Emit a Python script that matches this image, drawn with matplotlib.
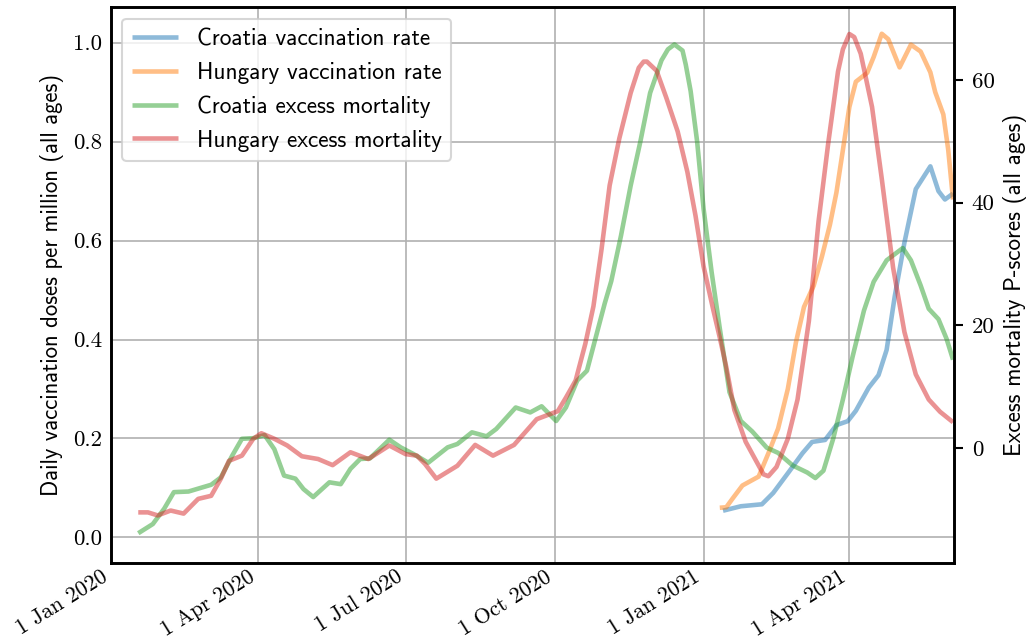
import matplotlib
matplotlib.use("Agg")
import matplotlib.pyplot as plt
import matplotlib.dates as mdates
from matplotlib.ticker import FormatStrFormatter, FuncFormatter, MultipleLocator
import pandas as pd

# Croatia excess mortality (P-scores, right axis)
hr_mort_dates = [
    "2020-01-18", "2020-01-27", "2020-02-03", "2020-02-09", "2020-02-18", "2020-03-03",
    "2020-03-09", "2020-03-16", "2020-03-22", "2020-03-29", "2020-04-05", "2020-04-11",
    "2020-04-17", "2020-04-24", "2020-04-29", "2020-05-05", "2020-05-15", "2020-05-22",
    "2020-05-28", "2020-06-03", "2020-06-09", "2020-06-21", "2020-06-28", "2020-07-06",
    "2020-07-15", "2020-07-27", "2020-08-02", "2020-08-11", "2020-08-20", "2020-08-26",
    "2020-09-07", "2020-09-16", "2020-09-23", "2020-10-02", "2020-10-08", "2020-10-15",
    "2020-10-21", "2020-10-26", "2020-11-01", "2020-11-05", "2020-11-11", "2020-11-17",
    "2020-11-23", "2020-11-29", "2020-12-06", "2020-12-10", "2020-12-14", "2020-12-19",
    "2020-12-21", "2020-12-24",
    "2020-12-28", "2021-01-01", "2021-01-06", "2021-01-11", "2021-01-17", "2021-01-24",
    "2021-01-31", "2021-02-09", "2021-02-16", "2021-02-25", "2021-03-06", "2021-03-11",
    "2021-03-16", "2021-03-22", "2021-03-28", "2021-04-03", "2021-04-10", "2021-04-16",
    "2021-04-24", "2021-05-04", "2021-05-09", "2021-05-15", "2021-05-20", "2021-05-26",
    "2021-05-31", "2021-06-04",
]
hr_mort = [
    -13.9, -12.4, -9.9, -7.2, -7.1, -6.0,
    -4.8, -1.25, 1.5, 1.6, 2.1, -0.2,
    -4.5, -5.0, -6.7, -8.0, -5.6, -5.9,
    -3.4, -1.8, -1.7, 1.35, 0.1, -1.0,
    -2.4, 0.1, 0.65, 2.55, 1.9, 3.1,
    6.6, 5.8, 6.8, 4.4, 6.6, 11.0,
    12.6, 17.6, 23.6, 27.2, 34.6, 42.8,
    50.0, 57.9, 63.2, 65.0, 65.8, 64.8,
    62.5, 58.2,
    50.0, 39.0, 28.6, 19.5, 9.1, 4.4,
    2.7, 0.05, -0.8, -2.85, -4.0, -4.9,
    -3.7, 1.5, 7.9, 14.9, 22.4, 27.1,
    30.6, 32.6, 30.6, 26.5, 22.7, 21.0,
    17.8, 14.4,
]

# Hungary excess mortality (P-scores, right axis)
hu_mort_dates = [
    "2020-01-18", "2020-01-24", "2020-01-30", "2020-02-07", "2020-02-15", "2020-02-24",
    "2020-03-03", "2020-03-09", "2020-03-14", "2020-03-22", "2020-03-29", "2020-04-03",
    "2020-04-11", "2020-04-19", "2020-04-28", "2020-05-08", "2020-05-17", "2020-05-28",
    "2020-06-08", "2020-06-21", "2020-07-01", "2020-07-08", "2020-07-13", "2020-07-20",
    "2020-08-02", "2020-08-13", "2020-08-24", "2020-09-06", "2020-09-20", "2020-10-03",
    "2020-10-08", "2020-10-14", "2020-10-20", "2020-10-25", "2020-10-30", "2020-11-04",
    "2020-11-10", "2020-11-17", "2020-11-22", "2020-11-25", "2020-11-27", "2020-12-03",
    "2020-12-09",
    "2020-12-16", "2020-12-22", "2020-12-27", "2021-01-01", "2021-01-07", "2021-01-11",
    "2021-01-15", "2021-01-20", "2021-01-27", "2021-02-02", "2021-02-07", "2021-02-10",
    "2021-02-15", "2021-02-22", "2021-02-28", "2021-03-07", "2021-03-13", "2021-03-19",
    "2021-03-25", "2021-03-28", "2021-04-01", "2021-04-04", "2021-04-08", "2021-04-15",
    "2021-04-21", "2021-04-28",
    "2021-05-05", "2021-05-12", "2021-05-20", "2021-05-27", "2021-06-04",
]
hu_mort = [
    -10.5, -10.5, -11.0, -10.2, -10.7, -8.3,
    -7.8, -5.0, -2.1, -1.25, 1.5, 2.4,
    1.5, 0.4, -1.35, -1.8, -2.8, -0.7,
    -1.8, 0.4, -1.0, -1.25, -2.6, -5.0,
    -2.9, 0.5, -1.25, 0.5, 4.7, 6.0,
    8.2, 11.0, 17.0, 23.1, 32.4, 42.8,
    50.5, 57.9, 62.0, 63.0, 63.0, 61.5,
    57.1,
    51.6, 45.0, 37.9, 29.6, 22.5, 18.0,
    13.2, 6.2, 1.0, -1.9, -4.3, -4.6,
    -3.1, 1.5, 7.9, 20.7, 37.0, 49.8,
    61.4, 65.0, 67.5, 67.0, 64.3, 55.6,
    43.9, 29.4,
    18.9, 12.0, 7.9, 5.9, 4.2,
]

# Croatia daily vaccination doses (left axis)
hr_vacc_dates = [
    "2021-01-13", "2021-01-24", "2021-02-06", "2021-02-13", "2021-02-23", "2021-03-03",
    "2021-03-09", "2021-03-17", "2021-03-24", "2021-03-31", "2021-04-05", "2021-04-13",
    "2021-04-19", "2021-04-24", "2021-04-29", "2021-05-05", "2021-05-12", "2021-05-21",
    "2021-05-26", "2021-05-30", "2021-06-04",
]
hr_vacc = [
    0.054, 0.063, 0.067, 0.090, 0.134, 0.170,
    0.193, 0.197, 0.227, 0.235, 0.256, 0.303,
    0.328, 0.379, 0.487, 0.596, 0.704, 0.750,
    0.700, 0.683, 0.695,
]

# Hungary daily vaccination doses (left axis)
hu_vacc_dates = [
    "2021-01-11", "2021-01-15", "2021-01-19", "2021-01-25", "2021-02-04", "2021-02-10",
    "2021-02-16", "2021-02-22", "2021-02-27", "2021-03-04", "2021-03-10", "2021-03-15",
    "2021-03-20", "2021-03-24", "2021-03-28", "2021-04-01", "2021-04-05", "2021-04-12",
    "2021-04-16", "2021-04-21", "2021-04-25", "2021-05-02", "2021-05-09", "2021-05-15",
    "2021-05-21", "2021-05-24", "2021-05-29", "2021-06-01", "2021-06-04",
]
hu_vacc = [
    0.060, 0.061, 0.079, 0.105, 0.123, 0.170,
    0.220, 0.300, 0.394, 0.466, 0.509, 0.567,
    0.632, 0.697, 0.783, 0.870, 0.921, 0.939,
    0.971, 1.018, 1.007, 0.950, 0.996, 0.982,
    0.940, 0.900, 0.855, 0.784, 0.683,
]

plt.rcParams["axes.unicode_minus"] = False
serif = "cmr10"
sans = "cmss10"

fig = plt.figure(figsize=(10.3 / 1.5, 6.44 / 1.5), dpi=150)
ax = fig.add_axes([0.1075, 0.1263, 0.8187, 0.8628])
ax2 = ax.twinx()

style = dict(alpha=0.5, lw=2.2, solid_joinstyle="round", solid_capstyle="butt")
l1, = ax.plot(pd.to_datetime(hr_vacc_dates), hr_vacc, color="tab:blue",
              label="Croatia vaccination rate", **style)
l2, = ax.plot(pd.to_datetime(hu_vacc_dates), hu_vacc, color="tab:orange",
              label="Hungary vaccination rate", **style)
l3, = ax2.plot(pd.to_datetime(hr_mort_dates), hr_mort, color="tab:green",
               label="Croatia excess mortality", **style)
l4, = ax2.plot(pd.to_datetime(hu_mort_dates), hu_mort, color="tab:red",
               label="Hungary excess mortality", **style)

ax.set_xlim(pd.Timestamp("2020-01-01"), pd.Timestamp("2021-06-04 14:00"))
ax.set_ylim(-0.051, 1.072)
ax2.set_ylim(-18.7, 71.9)

ax.xaxis.set_major_locator(mdates.MonthLocator(bymonth=[1, 4, 7, 10]))
ax.xaxis.set_major_formatter(FuncFormatter(
    lambda v, pos: "{} {}".format(mdates.num2date(v).day, mdates.num2date(v).strftime("%b %Y"))))
ax.yaxis.set_major_locator(MultipleLocator(0.2))
ax.yaxis.set_major_formatter(FormatStrFormatter("%.1f"))
ax2.yaxis.set_major_locator(MultipleLocator(20))
ax2.yaxis.set_major_formatter(FormatStrFormatter("%d"))

ax.grid(True, color="#b0b0b0", lw=0.8)
ax.tick_params(axis="x", length=0, pad=2)
ax.tick_params(axis="y", length=0, pad=4.3)
ax2.tick_params(axis="y", length=4.5, width=1.0, pad=4)

for lab in ax.get_xticklabels():
    lab.set_rotation(32)
    lab.set_ha("right")
    lab.set_fontfamily(serif)
    lab.set_fontsize(10.5)
for lab in ax.get_yticklabels() + ax2.get_yticklabels():
    lab.set_fontfamily(serif)
    lab.set_fontsize(11)

for a in (ax, ax2):
    for s in a.spines.values():
        s.set_linewidth(1.25)

ax.set_ylabel("Daily vaccination doses per million (all ages)", fontfamily=sans, fontsize=10.9)
ax2.set_ylabel("Excess mortality P-scores (all ages)", fontfamily=sans, fontsize=11.1)

ax2.legend(handles=[l1, l2, l3, l4], loc="upper left", prop={"family": sans, "size": 11.2})

fig.savefig("out.png", dpi=150)
